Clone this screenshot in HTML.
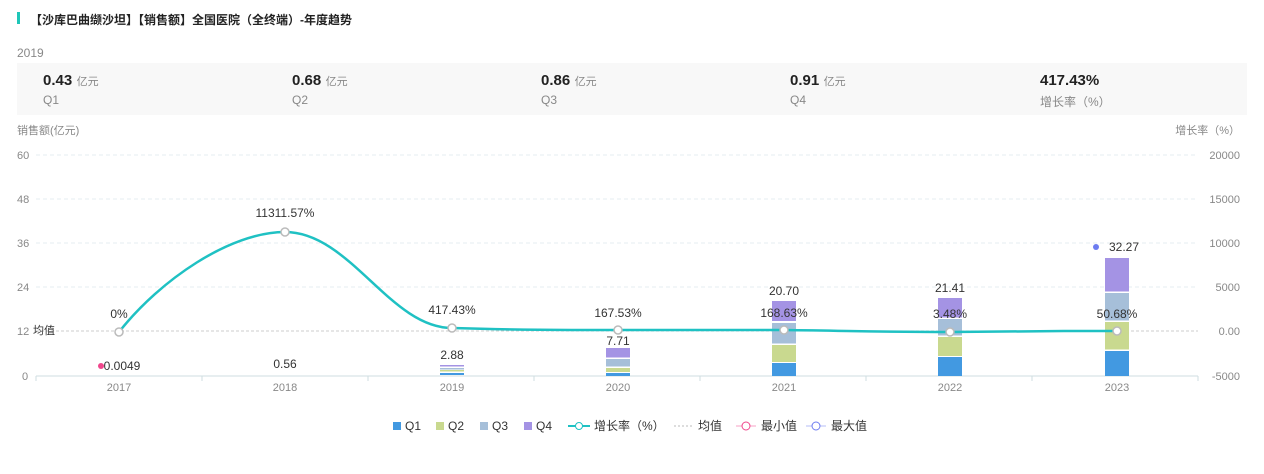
<!DOCTYPE html>
<html><head><meta charset="utf-8"><style>
body{margin:0;width:1264px;height:474px;background:#fff;font-family:"Liberation Sans","Noto Sans CJK SC",sans-serif;overflow:hidden;position:relative}
.t{position:absolute;left:30px;top:11px;font-size:12px;font-weight:bold;color:#222}
.bar{position:absolute;left:17px;top:12px;width:3px;height:12px;background:#1fc6b8}
.yr{position:absolute;left:17px;top:46px;font-size:12px;color:#888}
.box{position:absolute;left:17px;top:63px;width:1230px;height:52px;background:#f8f8f8}
.it{position:absolute;top:9px}
.it b{font-size:15px;color:#222}
.it span{font-size:11px;color:#888}
.it div{font-size:12px;color:#888;margin-top:3px}
</style></head><body>
<div class="bar"></div><div class="t">【沙库巴曲缬沙坦】【销售额】全国医院（全终端）-年度趋势</div>
<div class="yr">2019</div>
<div class="box">
<div class="it" style="left:26px"><b>0.43</b> <span>亿元</span><div>Q1</div></div>
<div class="it" style="left:275px"><b>0.68</b> <span>亿元</span><div>Q2</div></div>
<div class="it" style="left:524px"><b>0.86</b> <span>亿元</span><div>Q3</div></div>
<div class="it" style="left:773px"><b>0.91</b> <span>亿元</span><div>Q4</div></div>
<div class="it" style="left:1023px"><b>417.43%</b><div>增长率（%）</div></div>
</div>
<svg width="1264" height="474" style="position:absolute;left:0;top:0" font-family="Liberation Sans, Noto Sans CJK SC, sans-serif">
<g font-size="11" fill="#888">
<text x="17" y="134">销售额(亿元)</text>
<text x="1240" y="134" text-anchor="end">增长率（%）</text>
<g text-anchor="start"><text x="17" y="159">60</text><text x="17" y="203">48</text><text x="17" y="247">36</text><text x="17" y="291">24</text><text x="17" y="335">12</text><text x="22" y="380">0</text></g>
<g text-anchor="end"><text x="1240" y="159">20000</text><text x="1240" y="203">15000</text><text x="1240" y="247">10000</text><text x="1240" y="291">5000</text><text x="1240" y="335">0.00</text><text x="1240" y="380">-5000</text></g>
</g>
<g stroke="#e6eef0" stroke-dasharray="4,3"><line x1="36" x2="1198" y1="155" y2="155"/><line x1="36" x2="1198" y1="199" y2="199"/><line x1="36" x2="1198" y1="243" y2="243"/><line x1="36" x2="1198" y1="287" y2="287"/></g>
<line x1="36" x2="1198" y1="331" y2="331" stroke="#ccc" stroke-dasharray="3,2"/>
<line x1="36" x2="1198" y1="376" y2="376" stroke="#cfdde0"/>
<g stroke="#cfdde0"><line x1="36" x2="36" y1="376" y2="381"/><line x1="202" x2="202" y1="376" y2="381"/><line x1="368" x2="368" y1="376" y2="381"/><line x1="534" x2="534" y1="376" y2="381"/><line x1="700" x2="700" y1="376" y2="381"/><line x1="866" x2="866" y1="376" y2="381"/><line x1="1032" x2="1032" y1="376" y2="381"/><line x1="1198" x2="1198" y1="376" y2="381"/></g>
<g font-size="11" fill="#888" text-anchor="middle"><text x="119" y="391">2017</text><text x="285" y="391">2018</text><text x="452" y="391">2019</text><text x="618" y="391">2020</text><text x="784" y="391">2021</text><text x="950" y="391">2022</text><text x="1117" y="391">2023</text></g>
<text x="33" y="334" font-size="11" fill="#333">均值</text>
<!-- bars -->
<g>
<rect x="440" y="373" width="24" height="2" fill="#4299e1"/><rect x="440" y="370" width="24" height="1.5" fill="#c9d98f"/><rect x="440" y="368" width="24" height="1.5" fill="#a6bfd9"/><rect x="440" y="365" width="24" height="1.5" fill="#a493e4"/>
<rect x="606" y="373" width="24" height="3" fill="#4299e1"/><rect x="606" y="368" width="24" height="4" fill="#c9d98f"/><rect x="606" y="359" width="24" height="7.5" fill="#a6bfd9"/><rect x="606" y="348" width="24" height="9.5" fill="#a493e4"/>
<rect x="772" y="363" width="24" height="13" fill="#4299e1"/><rect x="772" y="345" width="24" height="17" fill="#c9d98f"/><rect x="772" y="323" width="24" height="20.5" fill="#a6bfd9"/><rect x="772" y="301" width="24" height="20" fill="#a493e4"/>
<rect x="938" y="357" width="24" height="19" fill="#4299e1"/><rect x="938" y="337" width="24" height="19" fill="#c9d98f"/><rect x="938" y="319" width="24" height="16.5" fill="#a6bfd9"/><rect x="938" y="298" width="24" height="19.5" fill="#a493e4"/>
<rect x="1105" y="351" width="24" height="25" fill="#4299e1"/><rect x="1105" y="322" width="24" height="27.5" fill="#c9d98f"/><rect x="1105" y="293" width="24" height="27.5" fill="#a6bfd9"/><rect x="1105" y="258" width="24" height="33.5" fill="#a493e4"/>
</g>
<g font-size="12" fill="#333" text-anchor="middle">
<text x="122" y="370">0.0049</text><text x="285" y="368">0.56</text><text x="452" y="359">2.88</text><text x="618" y="345">7.71</text><text x="784" y="295">20.70</text><text x="950" y="292">21.41</text><text x="1124" y="251">32.27</text>
<text x="119" y="318">0%</text><text x="285" y="217">11311.57%</text><text x="452" y="314">417.43%</text><text x="618" y="317">167.53%</text><text x="784" y="317">168.63%</text><text x="950" y="318">3.48%</text><text x="1117" y="318">50.68%</text>
</g>
<circle cx="101" cy="366" r="3" fill="#f0468c"/><circle cx="1096" cy="247" r="3" fill="#6d7cf0"/>
<path d="M119,332 C160,280 230,232 285,232 C350,232 390,328 452,328 C520,330 560,330 618,330 C700,330 720,330 784,330 C860,331 880,332 950,332 C1030,331 1060,331 1117,331" fill="none" stroke="#1fc1c3" stroke-width="2.5"/>
<g fill="#fff" stroke="#bbb" stroke-width="1.5"><circle cx="119" cy="332" r="4"/><circle cx="285" cy="232" r="4"/><circle cx="452" cy="328" r="4"/><circle cx="618" cy="330" r="4"/><circle cx="784" cy="330" r="4"/><circle cx="950" cy="332" r="4"/><circle cx="1117" cy="331" r="4"/></g>
<!-- legend -->
<g font-size="12" fill="#333">
<rect x="393" y="422" width="8" height="8" fill="#4299e1"/><text x="405" y="430">Q1</text>
<rect x="436" y="422" width="8" height="8" fill="#c9d98f"/><text x="448" y="430">Q2</text>
<rect x="480" y="422" width="8" height="8" fill="#a6bfd9"/><text x="492" y="430">Q3</text>
<rect x="524" y="422" width="8" height="8" fill="#a493e4"/><text x="536" y="430">Q4</text>
<line x1="568" x2="590" y1="426" y2="426" stroke="#1fc1c3" stroke-width="2"/><circle cx="579" cy="426" r="3.5" fill="#fff" stroke="#1fc1c3"/><text x="594" y="430">增长率（%）</text>
<line x1="674" x2="694" y1="426" y2="426" stroke="#bbb" stroke-dasharray="2,2"/><text x="698" y="430">均值</text>
<line x1="736" x2="756" y1="426" y2="426" stroke="#f0468c" stroke-opacity="0.5"/><circle cx="746" cy="426" r="4" fill="#fff" stroke="#f0468c"/><text x="761" y="430">最小值</text>
<line x1="806" x2="826" y1="426" y2="426" stroke="#6d7cf0" stroke-opacity="0.5"/><circle cx="816" cy="426" r="4" fill="#fff" stroke="#6d7cf0"/><text x="831" y="430">最大值</text>
</g>
</svg>
</body></html>
